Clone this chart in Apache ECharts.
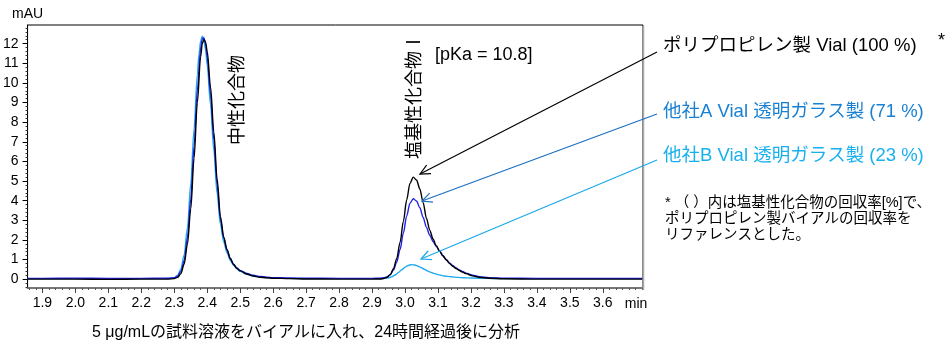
<!DOCTYPE html>
<html><head><meta charset="utf-8">
<script src="https://cdn.jsdelivr.net/npm/echarts@6/dist/echarts.min.js"></script>
<style>html,body{margin:0;padding:0;background:#fff}#c{width:949px;height:345px}</style>
</head><body><div id="c"></div>
<script>
// ---- tick labels ----
const xTickLabels = [1.9,2.0,2.1,2.2,2.3,2.4,2.5,2.6,2.7,2.8,2.9,3.0,3.1,3.2,3.3,3.4,3.5,3.6];
const yTickLabels = [0,1,2,3,4,5,6,7,8,9,10,11,12];

// ---- series: [time (min), absorbance (mAU)] ----
const ppVial = [[1.855,0.0],[1.9,0.0],[2.0,0.0],[2.1,-0.01],[2.2,0.0],[2.28,0.0],[2.30,0.03],[2.31,0.09],[2.32,0.28],[2.33,0.77],[2.34,1.79],[2.35,3.58],[2.36,6.15],[2.37,9.0],[2.38,11.34],[2.385,12.0],[2.39,12.22],[2.395,12.08],[2.40,11.6],[2.41,9.8],[2.42,7.5],[2.43,5.1],[2.44,3.2],[2.45,2.15],[2.46,1.5],[2.47,1.05],[2.48,0.75],[2.49,0.55],[2.50,0.42],[2.52,0.26],[2.54,0.16],[2.56,0.1],[2.58,0.07],[2.60,0.05],[2.65,0.03],[2.70,0.01],[2.80,0.0],[2.90,0.0],[2.925,0.01],[2.935,0.03],[2.945,0.09],[2.955,0.23],[2.965,0.53],[2.975,1.06],[2.985,1.87],[2.995,2.94],[3.005,4.03],[3.015,4.88],[3.025,5.2],[3.035,5.05],[3.045,4.6],[3.055,3.9],[3.065,3.1],[3.075,2.5],[3.085,2.05],[3.095,1.7],[3.105,1.42],[3.115,1.18],[3.125,0.98],[3.135,0.8],[3.145,0.66],[3.155,0.54],[3.165,0.44],[3.175,0.36],[3.185,0.28],[3.205,0.17],[3.225,0.1],[3.255,0.05],[3.30,0.02],[3.40,0.0],[3.50,0.0],[3.60,0.0],[3.72,0.0]];

const vialA = [[1.855,0.04],[1.9,0.04],[2.0,0.05],[2.1,0.04],[2.2,0.04],[2.28,0.05],[2.30,0.07],[2.31,0.15],[2.32,0.39],[2.33,0.96],[2.34,2.13],[2.35,4.09],[2.36,6.77],[2.37,9.63],[2.38,11.75],[2.385,12.25],[2.39,12.3],[2.395,12.0],[2.40,11.3],[2.41,9.4],[2.42,7.1],[2.43,4.8],[2.44,3.05],[2.45,2.1],[2.46,1.5],[2.47,1.05],[2.48,0.76],[2.49,0.57],[2.50,0.45],[2.52,0.29],[2.54,0.2],[2.56,0.14],[2.58,0.1],[2.60,0.08],[2.65,0.06],[2.70,0.05],[2.80,0.04],[2.90,0.04],[2.925,0.05],[2.935,0.07],[2.945,0.11],[2.955,0.22],[2.965,0.46],[2.975,0.87],[2.985,1.51],[2.995,2.35],[3.005,3.21],[3.015,3.87],[3.025,4.1],[3.035,3.98],[3.045,3.64],[3.055,3.14],[3.065,2.64],[3.075,2.24],[3.085,1.92],[3.095,1.66],[3.105,1.44],[3.115,1.21],[3.125,1.01],[3.135,0.83],[3.145,0.69],[3.155,0.57],[3.165,0.47],[3.175,0.39],[3.185,0.31],[3.205,0.2],[3.225,0.13],[3.255,0.08],[3.30,0.05],[3.40,0.04],[3.50,0.04],[3.60,0.04],[3.72,0.04]];

const vialB = [[1.855,0.03],[1.9,0.03],[2.0,0.03],[2.1,0.03],[2.2,0.03],[2.27,0.03],[2.29,0.04],[2.30,0.08],[2.31,0.19],[2.32,0.51],[2.33,1.23],[2.34,2.63],[2.35,4.85],[2.36,7.66],[2.37,10.42],[2.375,11.47],[2.38,12.14],[2.385,12.38],[2.39,12.2],[2.395,11.7],[2.40,10.9],[2.41,8.9],[2.42,6.55],[2.43,4.35],[2.44,2.8],[2.45,1.9],[2.46,1.35],[2.47,0.95],[2.48,0.7],[2.49,0.52],[2.50,0.4],[2.52,0.25],[2.54,0.16],[2.56,0.11],[2.58,0.08],[2.60,0.06],[2.65,0.04],[2.70,0.03],[2.80,0.03],[2.92,0.03],[2.94,0.04],[2.95,0.07],[2.96,0.12],[2.97,0.21],[2.98,0.34],[2.99,0.48],[3.00,0.61],[3.01,0.7],[3.02,0.74],[3.03,0.72],[3.04,0.66],[3.05,0.58],[3.06,0.49],[3.07,0.41],[3.08,0.34],[3.09,0.28],[3.10,0.23],[3.12,0.16],[3.14,0.12],[3.16,0.09],[3.18,0.07],[3.20,0.06],[3.25,0.04],[3.30,0.03],[3.50,0.03],[3.72,0.03]];

const seriesNames = ['ポリプロピレン製 Vial (100 %)', '他社A Vial 透明ガラス製 (71 %)', '他社B Vial 透明ガラス製 (23 %)'];

// minor tick positions
const xMinor = []; for (let i = 0; i <= 93; i++) { const v = +(1.86 + i * 0.02).toFixed(2); if (v <= 3.72) xMinor.push(v); }
const yMinor = []; for (let i = -2; i <= 64; i++) yMinor.push(+(i * 0.2).toFixed(1));

const FONT = "'Liberation Sans', Arial, 'Noto Sans CJK JP', sans-serif";
const X0 = 1.855, X1 = 3.722, Y0 = -0.45, Y1 = 12.95;

const chart = echarts.init(document.getElementById('c'));

function arrow(x1, y1, x2, y2, color) {
  const ang = Math.atan2(y1 - y2, x1 - x2), L = 11, a = 0.45;
  const p1 = [x2 + L * Math.cos(ang + a), y2 + L * Math.sin(ang + a)];
  const p2 = [x2 + L * Math.cos(ang - a), y2 + L * Math.sin(ang - a)];
  return [
    { type: 'line', shape: { x1, y1, x2, y2 }, style: { stroke: color, lineWidth: 1.2 }, z: 100 },
    { type: 'polyline', shape: { points: [p1, [x2, y2], p2] }, style: { stroke: color, lineWidth: 1.2, fill: null }, z: 100 }
  ];
}

const txt = (x, y, text, o = {}) => ({
  type: 'text', x, y, rotation: o.rot || 0, z: 100,
  style: Object.assign({ text, fill: '#000', font: (o.size || 18) + 'px ' + FONT, align: 'left', verticalAlign: 'middle' }, o.style || {})
});

const graphics = [
  { type: 'line', shape: { x1: 643.5, y1: 26, x2: 643.5, y2: 290 }, style: { stroke: '#aaa', lineWidth: 1.5 }, z: 50 },
  txt(238, 100, '中性化合物', { rot: Math.PI / 2, style: { align: 'center' } }),
  txt(415, 96, '塩基性化合物Ⅰ', { rot: Math.PI / 2, style: { align: 'center' } }),
  txt(435, 55, '[pKa = 10.8]'),
  txt(663, 46, seriesNames[0], { size: 18.5 }),
  txt(938, 41, '*'),
  txt(663, 112, seriesNames[1], { size: 18.5, style: { fill: '#1a80d2' } }),
  txt(663, 156, seriesNames[2], { size: 18.5, style: { fill: '#18b0ee' } }),
  txt(665, 195, '* （ ）内は塩基性化合物の回収率[%]で、\nポリプロピレン製バイアルの回収率を\nリファレンスとした。', { size: 14.5, style: { verticalAlign: 'top', lineHeight: 16 } }),
  txt(306, 333, '5 μg/mLの試料溶液をバイアルに入れ、24時間経過後に分析', { size: 16, style: { align: 'center' } }),
  txt(636, 304, 'min', { size: 14, style: { align: 'center' } }),
  ...arrow(657, 52, 420, 174, '#000'),
  ...arrow(657, 114, 422, 201, '#1a6fc2'),
  ...arrow(657, 160, 421, 259, '#1aa8ea')
];

const commonX = { type: 'value', min: X0, max: X1, position: 'bottom', gridIndex: 0, splitLine: { show: false } };
const commonY = { type: 'value', min: Y0, max: Y1, position: 'left', gridIndex: 0, splitLine: { show: false } };

chart.setOption({
  animation: false,
  textStyle: { fontFamily: FONT },
  grid: { left: 24, right: 306, top: 25, bottom: 57, show: true, borderColor: '#000', borderWidth: 1, backgroundColor: 'transparent' },
  xAxis: [
    Object.assign({}, commonX, {
      axisLine: { show: true, onZero: false, lineStyle: { color: '#777', width: 2 } },
      axisTick: { show: true, inside: false, length: 2, customValues: xMinor, lineStyle: { color: '#555', width: 1 } },
      axisLabel: { show: false }
    }),
    Object.assign({}, commonX, {
      axisLine: { show: false, onZero: false },
      axisTick: { show: true, length: 5, customValues: xTickLabels, lineStyle: { color: '#444', width: 1 } },
      axisLabel: { show: true, customValues: xTickLabels, margin: 8, color: '#000', fontSize: 14, fontFamily: FONT, formatter: v => v.toFixed(1) }
    })
  ],
  yAxis: [
    Object.assign({}, commonY, {
      name: 'mAU', nameLocation: 'end', nameGap: 4,
      nameTextStyle: { color: '#000', fontSize: 14, fontFamily: FONT, align: 'center', verticalAlign: 'bottom' },
      axisLine: { show: true, onZero: false, lineStyle: { color: '#000', width: 1 } },
      axisTick: { show: true, length: 2, customValues: yMinor, lineStyle: { color: '#333', width: 1 } },
      axisLabel: { show: false }
    }),
    Object.assign({}, commonY, {
      axisLine: { show: false, onZero: false },
      axisTick: { show: true, length: 5, customValues: yTickLabels, lineStyle: { color: '#000', width: 1 } },
      axisLabel: { show: true, customValues: yTickLabels, margin: 9, color: '#000', fontSize: 14, fontFamily: FONT }
    })
  ],
  series: [
    { name: seriesNames[2], type: 'line', xAxisIndex: 1, yAxisIndex: 1, data: vialB, showSymbol: false, smooth: 0.3, smoothMonotone: 'x', lineStyle: { color: '#22aaee', width: 1.4 }, z: 2 },
    { name: seriesNames[1], type: 'line', xAxisIndex: 1, yAxisIndex: 1, data: vialA, showSymbol: false, smooth: 0.3, smoothMonotone: 'x', lineStyle: { color: '#2222ee', width: 1.4 }, z: 3 },
    { name: seriesNames[0], type: 'line', xAxisIndex: 1, yAxisIndex: 1, data: ppVial, showSymbol: false, smooth: 0.3, smoothMonotone: 'x', lineStyle: { color: '#000', width: 1.4 }, z: 4 }
  ],
  graphic: graphics
});
</script>
</body></html>
